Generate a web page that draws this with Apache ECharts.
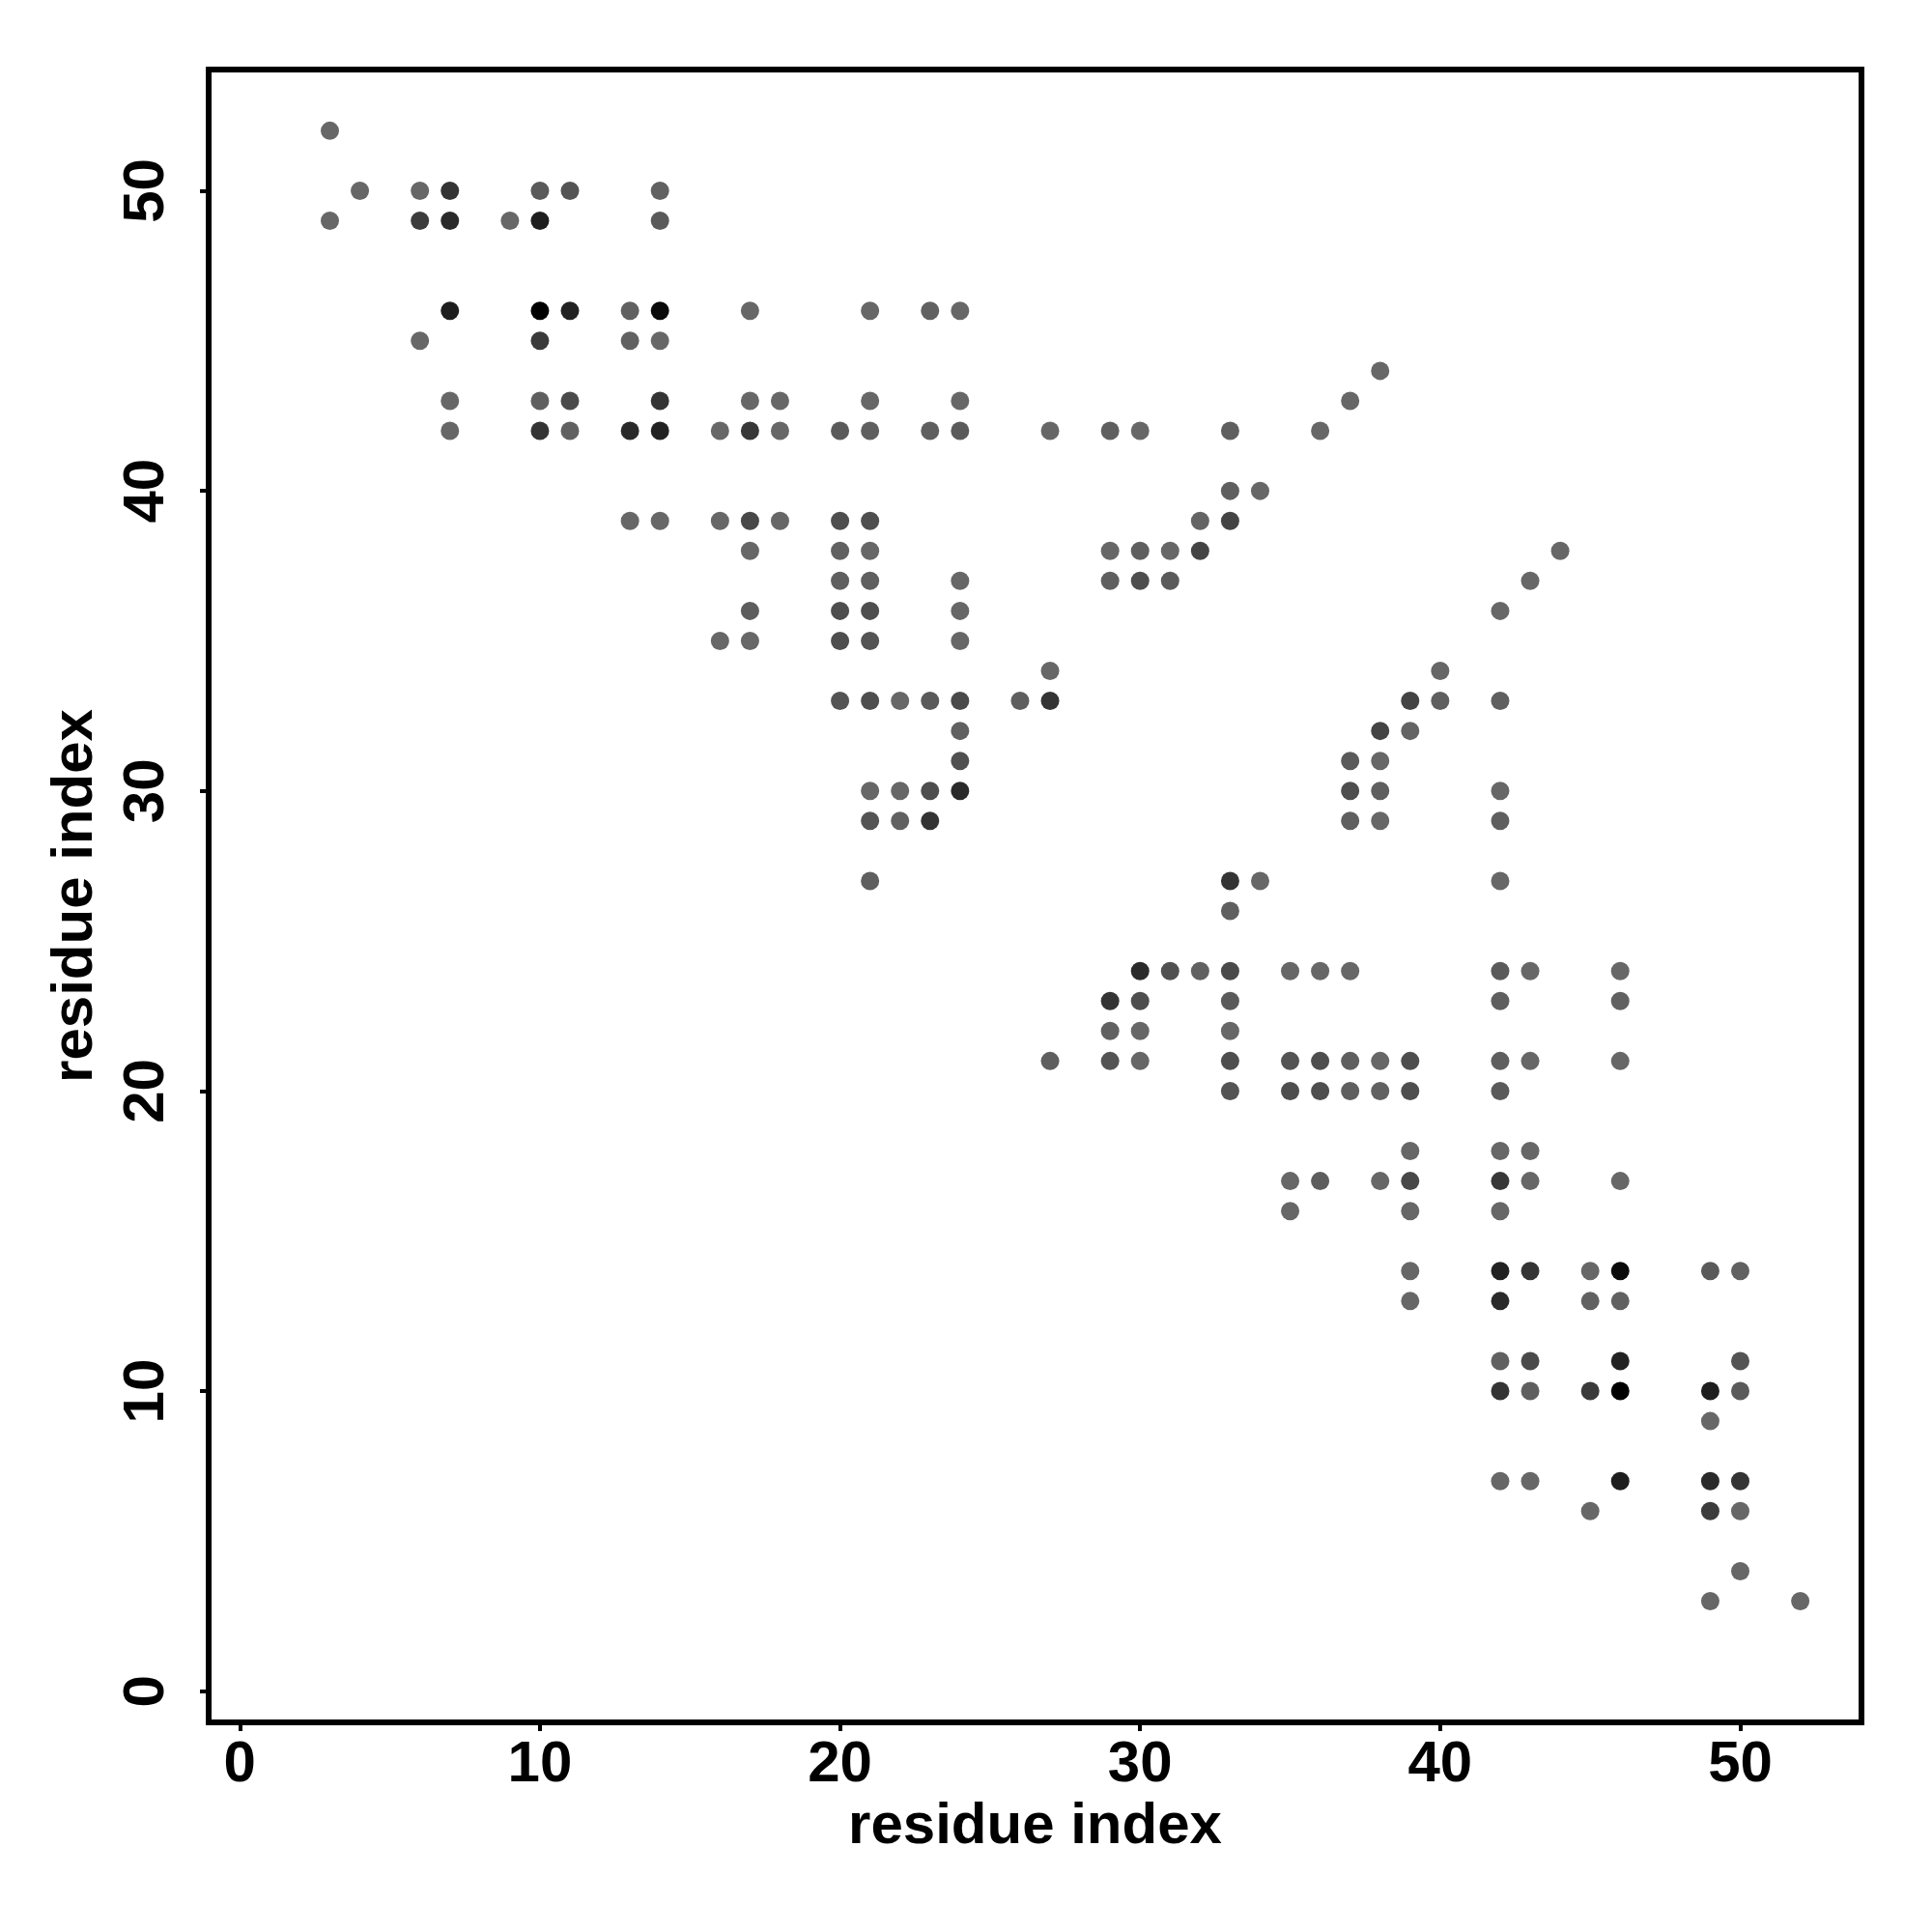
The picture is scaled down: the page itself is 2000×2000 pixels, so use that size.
<!DOCTYPE html>
<html>
<head>
<meta charset="utf-8">
<script src="https://cdn.jsdelivr.net/npm/echarts@6/dist/echarts.min.js"></script>
<style>
  html, body { margin: 0; padding: 0; background: #fff; }
  #chart { width: 2000px; height: 2000px; }
</style>
</head>
<body>
<div id="chart"></div>
<script>
// Contact pairs (residue i < residue j); the map is symmetric, each pair drawn at (i,j) and (j,i)
const resI = [3,3,4,6,6,6,7,7,7,7,7,9,10,10,10,10,10,10,11,11,11,11,13,13,13,13,14,14,14,14,14,14,14,
  16,16,16,17,17,17,17,17,17,17,18,18,18,20,20,20,20,20,20,20,21,21,21,21,21,21,21,21,21,21,21,21,
  22,22,22,23,23,23,23,23,24,24,24,24,24,24,24,24,24,24,26,27,27,27,29,29,29,30,30,30,31,31,32,32,
  33,33,33,34,36,37,38];
const resJ = [52,49,50,50,49,45,50,49,46,43,42,49,50,49,46,45,43,42,50,46,43,42,46,45,42,39,50,49,46,45,43,42,39,
  42,39,35,46,43,42,39,38,36,35,43,42,39,42,39,38,37,36,35,33,46,43,42,39,38,37,36,35,33,30,29,27,
  33,30,29,46,42,33,30,29,46,43,42,37,36,35,33,32,31,30,33,42,34,33,42,38,37,42,38,37,38,37,39,38,
  42,40,39,40,42,43,44];
// contact strength (0 = lightest grey, 1 = black)
const strength = [0,0,0,0,0.42,0,0.5,0.59,0.71,0,0,0,0.13,0.71,1.0,0.44,0.08,0.5,0.18,0.67,0.28,0.06,0.06,0.06,0.59,0,0.06,0.13,0.9,0,0.5,0.67,0,
  0,0,0,0,0,0.46,0.3,0,0.1,0,0,0,0,0.13,0.24,0.06,0.08,0.24,0.24,0.18,0,0,0.08,0.24,0,0.08,0.24,0.18,0.24,0,0.18,0.08,
  0,0,0.06,0.06,0.08,0.13,0.24,0.5,0,0,0.13,0,0,0,0.28,0.06,0.22,0.59,0.08,0,0,0.5,0.08,0,0.08,0,0.08,0.24,0,0.13,0.03,0.34,
  0.08,0.08,0.34,0,0,0,0];
const tickValues = [0, 10, 20, 30, 40, 50];
const axisTitle = 'residue index';

const points = [];
for (let k = 0; k < resI.length; k++) {
  points.push([resI[k], resJ[k], strength[k]]);
  points.push([resJ[k], resI[k], strength[k]]);
}

const fontFamily = '"Liberation Sans", Arial, Helvetica, sans-serif';
const chart = echarts.init(document.getElementById('chart'), null, { renderer: 'canvas' });

function axisCommon(isY) {
  return {
    type: 'value',
    min: -1.04,
    max: 54.04,
    splitLine: { show: false },
    axisLine: { show: true, onZero: false, lineStyle: { color: '#000', width: 6 } },
    axisTick: { show: true, customValues: tickValues, length: 9, lineStyle: { color: '#000', width: 4 } },
    axisLabel: {
      customValues: tickValues,
      fontSize: 60,
      fontWeight: 'bold',
      fontFamily: fontFamily,
      color: '#000',
      margin: isY ? 34 : 14,
      rotate: isY ? 90 : 0
    },
    name: axisTitle,
    nameLocation: 'middle',
    nameGap: isY ? 108 : 78,
    nameTextStyle: { fontSize: 60, fontWeight: 'bold', fontFamily: fontFamily, color: '#000' }
  };
}

chart.setOption({
  animation: false,
  backgroundColor: '#fff',
  grid: { left: 216, right: 73, top: 72, bottom: 217, show: true, borderColor: '#000', borderWidth: 6, backgroundColor: 'transparent' },
  xAxis: axisCommon(false),
  yAxis: axisCommon(true),
  visualMap: {
    show: false,
    dimension: 2,
    min: 0,
    max: 1,
    inRange: { color: ['#676767', '#000000'] }
  },
  series: [{
    type: 'scatter',
    data: points,
    symbol: 'circle',
    symbolSize: 19,
    itemStyle: { opacity: 1 }
  }]
});
</script>
</body>
</html>
